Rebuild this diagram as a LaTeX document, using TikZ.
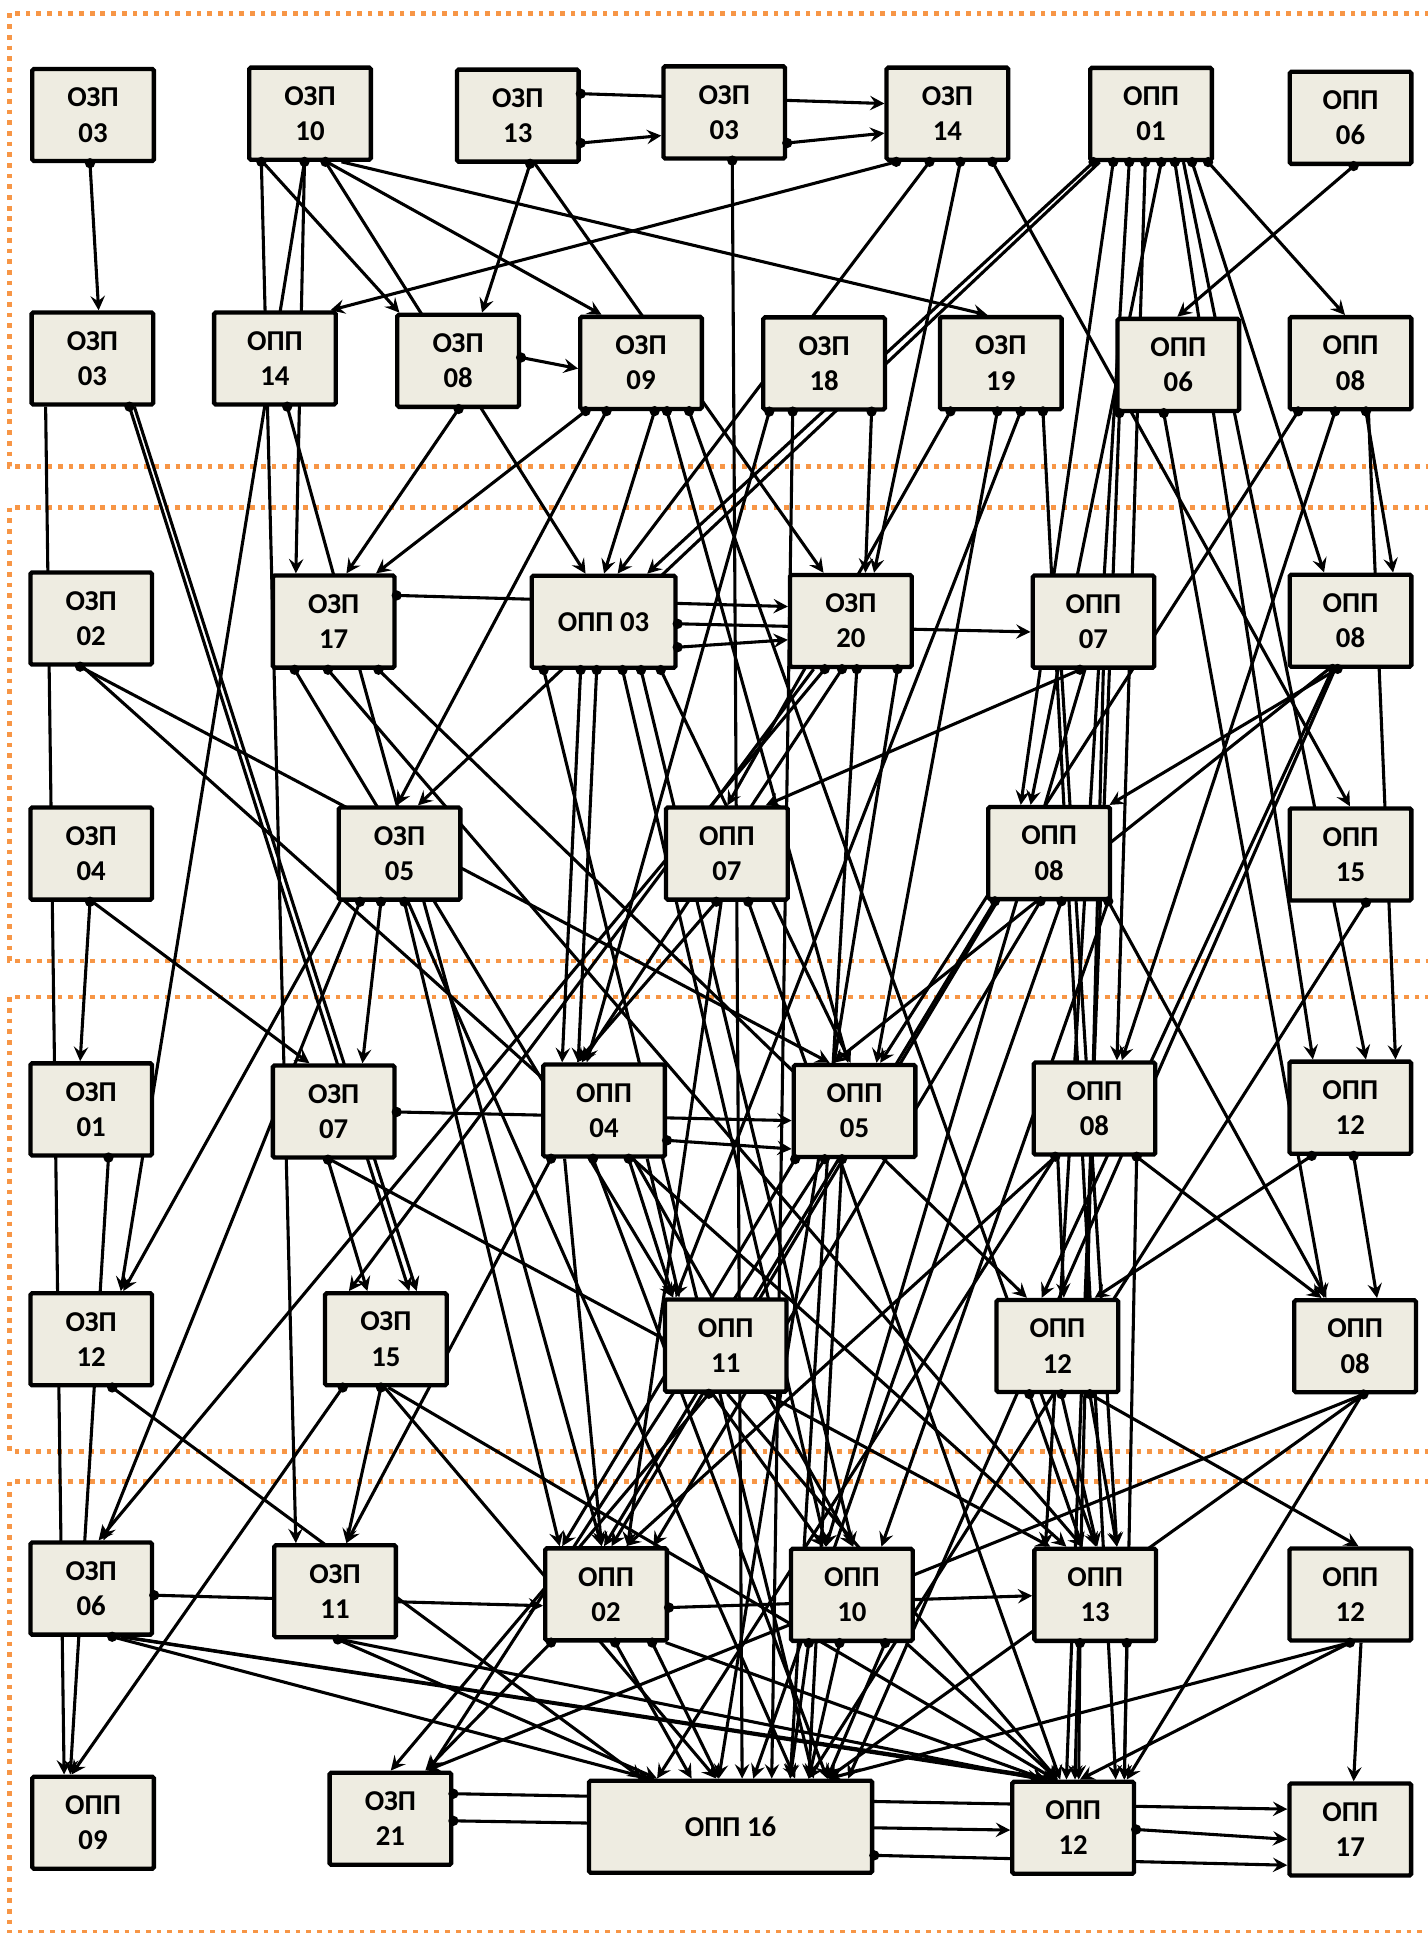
\documentclass[tikz,border=0pt]{standalone}
\usepackage{fontspec}
\setmainfont{Carlito}
\usetikzlibrary{arrows.meta}
\pgfdeclarelayer{bg}\pgfdeclarelayer{fg}\pgfsetlayers{bg,main,fg}
\definecolor{boxfill}{RGB}{238,236,225}
\definecolor{panelorange}{RGB}{247,150,70}
\tikzset{
 box/.style={draw=black, line width=2.1pt, rounded corners=0.8pt, fill=boxfill, minimum width=59.2pt, minimum height=44.8pt, inner sep=0pt, align=center, font=\fontsize{14}{17.2}\selectfont\bfseries},
 edge/.style={line width=1.5pt, -{Stealth[length=7pt,width=7pt,inset=2.6pt]}},
 panel/.style={draw=panelorange, line width=2.3pt, dash pattern=on 2.3pt off 2.9pt},
}
\newcommand\EBT[4]{\begin{pgfonlayer}{bg}\draw[edge] (#1.south -| #2,0) -- (#3.north -| #4,0);\end{pgfonlayer}\begin{pgfonlayer}{fg}\fill (#1.south -| #2,0) circle (2.5pt);\end{pgfonlayer}}
\newcommand\EBN[4]{\begin{pgfonlayer}{bg}\draw[edge] (#1.south -| #2,0) -- (#3.north -| #4,0);\end{pgfonlayer}}
\newcommand\ERL[4]{\begin{pgfonlayer}{bg}\draw[edge] (#1.east |- 0,#2) -- (#3.west |- 0,#4);\end{pgfonlayer}\begin{pgfonlayer}{fg}\fill (#1.east |- 0,#2) circle (2.5pt);\end{pgfonlayer}}
\begin{document}
\begin{tikzpicture}[x=0.6pt,y=-0.6pt]
\useasboundingbox (0,0) rectangle (1158,1568);
\begin{pgfonlayer}{bg}
\draw[panel] (1160,10.8) -- (7.5,10.8) -- (7.5,378.7) -- (1160,378.7);
\draw[panel] (1160,411.7) -- (7.5,411.7) -- (7.5,779.5) -- (1160,779.5);
\draw[panel] (1160,808.8) -- (7.5,808.8) -- (7.5,1177.2) -- (1160,1177.2);
\draw[panel] (1160,1201.6) -- (7.5,1201.6) -- (7.5,1567.5) -- (1160,1567.5);
\end{pgfonlayer}
% nodes
\node[box] (A1) at (75.5,93.3) {ОЗП\\03};
\node[box] (A2) at (251.5,92.2) {ОЗП\\10};
\node[box] (A3) at (420,93.8) {ОЗП\\13};
\node[box] (A4) at (587.5,91.2) {ОЗП\\03};
\node[box] (A5) at (768.5,92.2) {ОЗП\\14};
\node[box] (A6) at (933.7,92.4) {ОПП\\01};
\node[box] (A7) at (1095.5,95.6) {ОПП\\06};
\node[box] (B1) at (75,290.8) {ОЗП\\03};
\node[box] (B2) at (223,290.8) {ОПП\\14};
\node[box] (B3) at (371.6,292.7) {ОЗП\\08};
\node[box] (B4) at (520,294.4) {ОЗП\\09};
\node[box] (B5) at (668.5,294.8) {ОЗП\\18};
\node[box] (B6) at (811.8,294.6) {ОЗП\\19};
\node[box] (B7) at (955.8,296) {ОПП\\06};
\node[box] (B8) at (1095.5,294.6) {ОПП\\08};
\node[box] (C1) at (74,501.7) {ОЗП\\02};
\node[box] (C2) at (270.7,504.2) {ОЗП\\17};
\node[box,minimum width=70pt] (C3) at (489.6,504.4) {ОПП 03};
\node[box] (C4) at (690.2,503.7) {ОЗП\\20};
\node[box] (C5) at (887,504.2) {ОПП\\07};
\node[box] (C6) at (1095.5,503.5) {ОПП\\08};
\node[box] (D1) at (74,692.4) {ОЗП\\04};
\node[box] (D2) at (324.1,692.4) {ОЗП\\05};
\node[box] (D3) at (589.6,692.4) {ОПП\\07};
\node[box] (D4) at (851,692) {ОПП\\08};
\node[box] (D5) at (1095.5,693.1) {ОПП\\15};
\node[box] (E1) at (74,899.9) {ОЗП\\01};
\node[box] (E2) at (270.7,901.6) {ОЗП\\07};
\node[box] (E3) at (490,900.8) {ОПП\\04};
\node[box] (E4) at (693.2,901.2) {ОПП\\05};
\node[box] (E5) at (887.8,899.2) {ОПП\\08};
\node[box] (E6) at (1095.3,898.5) {ОПП\\12};
\node[box] (F1) at (74,1086.4) {ОЗП\\12};
\node[box] (F2) at (313,1086.4) {ОЗП\\15};
\node[box] (F3) at (588.7,1091.5) {ОПП\\11};
\node[box] (F4) at (857.7,1091.8) {ОПП\\12};
\node[box] (F5) at (1099.2,1092) {ОПП\\08};
\node[box] (G1) at (74,1288.6) {ОЗП\\06};
\node[box] (G2) at (271.8,1290.8) {ОЗП\\11};
\node[box] (G3) at (491.6,1293.3) {ОПП\\02};
\node[box] (G4) at (691,1293.7) {ОПП\\10};
\node[box] (G5) at (888.4,1293.7) {ОПП\\13};
\node[box] (G6) at (1095.3,1293.4) {ОПП\\12};
\node[box] (H1) at (75.5,1478.5) {ОПП\\09};
\node[box] (H2) at (316.7,1475.3) {ОЗП\\21};
\node[box,minimum width=137.8pt] (H3) at (592.6,1481.8) {ОПП 16};
\node[box] (H4) at (870.5,1482.6) {ОПП\\12};
\node[box] (H5) at (1095.3,1484) {ОПП\\17};
% panel 1 edges
\EBT{A1}{73}{B1}{80}
\EBT{A2}{212}{G2}{240}
\EBN{A2}{213}{B3}{324}
\EBT{A2}{247}{F1}{98}
\EBN{A2}{247}{C2}{240}
\EBT{A2}{264}{C3}{475}
\EBN{A2}{265}{B4}{488}
\EBN{A2}{277}{B6}{801}
\ERL{A3}{76}{A5}{84}
\ERL{A3}{116}{A4}{110}
\ERL{A4}{116}{A5}{108}
\EBT{A3}{430}{B3}{391}
\EBN{A3}{434}{C4}{668}
\EBT{A4}{594}{H3}{602}
\EBT{A5}{727}{B2}{268}
\EBT{A5}{754}{C3}{501}
\EBT{A5}{779}{C4}{709}
\EBT{A5}{805}{D5}{1095}
\EBT{A6}{887}{C3}{525}
\EBN{A6}{892}{D2}{339}
\EBT{A6}{903}{D4}{828}
\EBT{A6}{916}{G5}{848}
\EBT{A6}{929}{E5}{906}
\EBT{A6}{942}{D4}{836}
\EBT{A6}{953}{E6}{1065}
\EBN{A6}{960}{E6}{1108}
\EBT{A6}{967}{C6}{1074}
\EBT{A6}{980}{B8}{1091}
\EBT{A7}{1098}{B7}{955}
\ERL{B3}{290}{B4}{299}
% row 2
\EBN{B1}{37}{H1}{52}
\EBT{B1}{105}{F2}{332}
\EBN{B1}{109}{F2}{338}
\EBT{B2}{233}{G3}{488}
\EBT{B3}{372}{C2}{281}
\EBT{B4}{475}{C2}{305}
\EBT{B4}{492}{D2}{322}
\EBT{B4}{531}{C3}{490}
\EBT{B4}{541}{E4}{688}
\EBT{B4}{559}{G5}{889}
\EBT{B5}{624}{E3}{476}
\EBT{B5}{643}{H3}{626}
\EBT{B5}{707}{C4}{702}
\EBT{B6}{771}{D3}{590}
\EBT{B6}{809}{E4}{711}
\EBT{B6}{828}{F3}{548}
\EBT{B6}{846}{H4}{905}
\EBT{B7}{908}{H4}{865}
\EBT{B7}{944}{F5}{1074}
\EBT{B8}{1053}{E4}{714}
\EBT{B8}{1083}{E5}{910}
\EBT{B8}{1108}{C6}{1130}
\EBN{B8}{1110}{E6}{1132}
% row 3
\EBT{C1}{65}{E4}{673}
\EBN{C1}{67}{G5}{865}
\ERL{C2}{483}{C4}{492}
\EBT{C2}{239}{F3}{546}
\EBT{C2}{266}{G5}{878}
\EBT{C2}{307}{F4}{833}
\ERL{C3}{506}{C5}{512.6}
\ERL{C3}{525}{C4}{519}
\EBT{C3}{441}{H3}{660}
\EBT{C3}{471}{E3}{456}
\EBT{C3}{484}{E3}{469}
\EBT{C3}{505}{G4}{670}
\EBT{C3}{520}{G4}{692}
\EBT{C3}{536}{E4}{690}
\EBT{C4}{669}{G1}{80}
\EBN{C4}{660}{F2}{283}
\EBT{C4}{683}{E3}{472}
\EBT{C4}{695}{H3}{641}
\EBT{C4}{728}{H3}{583}
\EBT{C5}{876}{D3}{621}
\EBN{C5}{861}{G5}{906}
\EBN{C5}{880}{G4}{670}
\EBN{C5}{895}{H4}{872}
\EBT{C6}{1085}{D4}{900}
\EBT{C6}{1081}{F4}{845}
\EBN{C6}{1083}{H3}{688}
\EBN{C6}{1078}{E4}{676}
% row 4
\EBT{D1}{73}{E1}{65}
\EBN{D1}{75}{E2}{251}
\EBN{D2}{276}{F1}{100}
\EBT{D2}{292}{G1}{84}
\EBT{D2}{309}{E2}{294}
\EBT{D2}{328}{G3}{454}
\EBN{D2}{331}{H3}{645}
\EBT{D3}{581}{E3}{468}
\EBN{D3}{585}{G3}{509}
\EBT{D3}{607}{H4}{860}
\EBT{D4}{807}{G3}{490}
\EBN{D4}{809}{G3}{496}
\EBT{D4}{844}{G3}{530}
\EBT{D4}{861}{H3}{611}
\EBT{D4}{899}{F5}{1076}
\EBN{D4}{899}{G4}{715}
\EBT{D5}{1108}{H3}{656}
% row 5
\ERL{E2}{902}{E4}{909}
\ERL{E3}{925}{E4}{932}
\EBT{E1}{88}{H1}{57}
\EBT{E2}{266}{F2}{298}
\EBN{E2}{268}{G5}{852}
\EBT{E3}{447}{G2}{281}
\EBN{E3}{458}{G3}{488}
\EBT{E3}{481}{H3}{671}
\EBT{E3}{510}{F3}{546}
\EBN{E3}{525}{F3}{551}
\EBN{E3}{514}{G4}{692}
\EBT{E4}{645}{G3}{456}
\EBT{E4}{669}{H2}{348}
\EBT{E4}{683}{H3}{656}
\EBT{E5}{856}{G3}{508}
\EBN{E5}{856}{H3}{533}
\EBN{E5}{858}{F4}{863}
\EBT{E5}{922}{F5}{1072}
\EBN{E5}{922}{H4}{912}
\EBT{E6}{1064}{F4}{888}
\EBT{E6}{1098}{F5}{1117}
% row 6
\EBT{F1}{91}{H3}{521}
\EBT{F2}{278}{H1}{58}
\EBT{F2}{309}{G2}{281}
\EBN{F2}{312}{H3}{581}
\EBN{F2}{315}{H4}{856}
\EBT{F3}{575}{H2}{317}
\EBN{F3}{578}{G4}{668}
\EBN{F3}{590}{H4}{858}
\EBT{F4}{835}{G5}{878}
\EBT{F4}{861}{G5}{890}
\EBT{F4}{884}{G5}{906}
\EBN{F4}{884}{G6}{1102}
\EBT{F5}{1106}{H2}{346}
\EBN{F5}{1106}{H3}{671}
\EBN{F5}{1105}{H4}{914}
% row 7
\ERL{G1}{1294}{G3}{1302.5}
\ERL{G3}{1304}{G5}{1294.4}
\EBT{G1}{91}{H3}{527}
\EBN{G1}{98}{H4}{850}
\EBN{G1}{100}{H4}{858}
\EBT{G2}{274}{H3}{533}
\EBN{G2}{276}{H4}{845}
\EBT{G3}{447}{H2}{345}
\EBT{G3}{499}{H3}{561}
\EBT{G3}{529}{H3}{583}
\EBN{G3}{540}{H4}{848}
\EBT{G4}{656}{H3}{641}
\EBT{G4}{681}{H3}{656}
\EBT{G4}{718}{H3}{671}
\EBN{G4}{735}{H4}{858}
\EBT{G5}{876}{H4}{875}
\EBT{G5}{914}{H4}{912}
\EBT{G6}{1095}{H3}{672}
\EBN{G6}{1095}{H4}{876}
\EBN{G6}{1104}{H5}{1098}
% row 8
\ERL{H2}{1455}{H5}{1467.5}
\ERL{H2}{1477}{H4}{1484.5}
\ERL{H3}{1505}{H5}{1513}
\ERL{H4}{1484}{H5}{1492}
\end{tikzpicture}
\end{document}
